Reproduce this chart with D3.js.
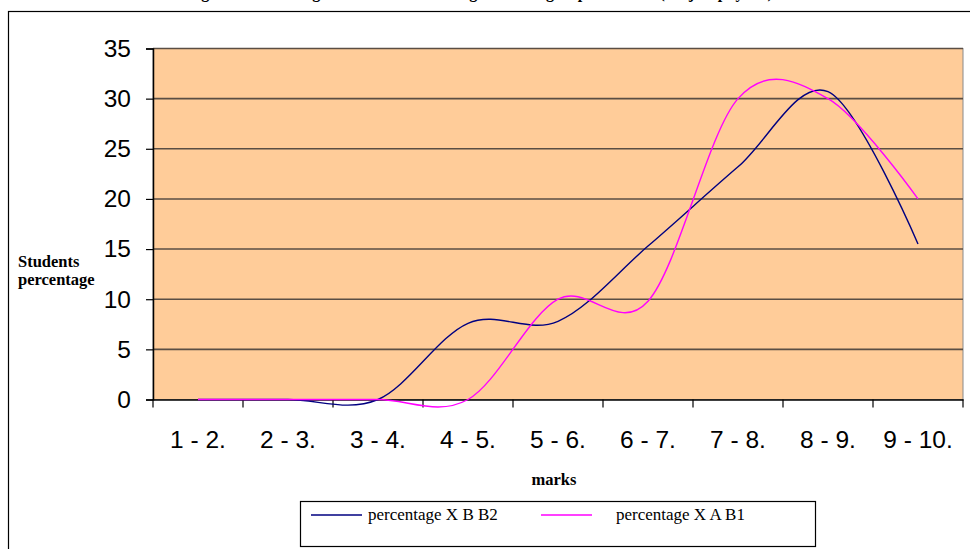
<!DOCTYPE html>
<html>
<head>
<meta charset="utf-8">
<script src="https://cdn.jsdelivr.net/npm/d3@7"></script>
<style>
  html, body { margin: 0; padding: 0; background: #fff; }
  svg { display: block; }
</style>
</head>
<body>
<svg id="chart" width="970" height="549"></svg>
<script>
const categories = ["1 - 2.", "2 - 3.", "3 - 4.", "4 - 5.", "5 - 6.", "6 - 7.", "7 - 8.", "8 - 9.", "9 - 10."];
const seriesXBB2 = [0, 0, 0, 7.6, 7.8, 15.3, 23.2, 30.7, 15.5];
const seriesXAB1 = [0, 0, 0, 0, 10.0, 9.8, 30.0, 30.0, 20.0];
const seriesNames = ["percentage X B B2", "percentage X A B1"];
const seriesColors = ["#000080", "#FF00FF"];
const yTicks = [0, 5, 10, 15, 20, 25, 30, 35];

(function () {
const svg = d3.select("#chart");
const pLeft = 153, pRight = 963, pTop = 48.5, pBottom = 399.5;

const x = d3.scaleBand().domain(categories).range([pLeft, pRight]).padding(0);
const y = d3.scaleLinear().domain([0, 35]).range([pBottom, pTop]);

// title (cut off at top, as in the source)
svg.append("text")
  .attr("x", 480).attr("y", -2.5)
  .attr("text-anchor", "middle")
  .attr("font-family", "Liberation Serif, Times New Roman, serif")
  .attr("font-weight", "bold").attr("font-size", 16)
  .text("Figure 2. Percentage of students according to marks group in class X (subject physics)");

// outer frame
svg.append("rect")
  .attr("x", 8.5).attr("y", 11.5).attr("width", 975).attr("height", 600)
  .attr("fill", "none").attr("stroke", "#000").attr("stroke-width", 1.2);

// plot background
svg.append("rect")
  .attr("x", pLeft).attr("y", pTop).attr("width", pRight - pLeft).attr("height", pBottom - pTop)
  .attr("fill", "#FFCC99").attr("stroke", "#8a8a8a").attr("stroke-width", 1);

// gridlines
svg.append("g").selectAll("line")
  .data(yTicks.filter(d => d > 0))
  .join("line")
  .attr("x1", pLeft).attr("x2", pRight)
  .attr("y1", d => y(d)).attr("y2", d => y(d))
  .attr("stroke", "#5a4e44").attr("stroke-width", 1.6);

// y axis
const yAxis = d3.axisLeft(y).tickValues(yTicks).tickSize(7).tickPadding(15).tickFormat(d3.format("d"));
const gy = svg.append("g").attr("transform", `translate(${pLeft},0)`).call(yAxis);
gy.select(".domain").attr("stroke", "#000").attr("stroke-width", 1.5);
gy.selectAll(".tick line").attr("stroke", "#000").attr("stroke-width", 1.2);
gy.selectAll(".tick text")
  .attr("font-family", "Liberation Sans, Arial, sans-serif")
  .attr("font-size", 24.5).attr("fill", "#000");

// x axis
const xAxis = d3.axisBottom(x).tickSize(0).tickPadding(48);
const gx = svg.append("g").attr("transform", `translate(0,${pBottom})`).call(xAxis);
gx.select(".domain").attr("stroke", "#000").attr("stroke-width", 1.5);
gx.selectAll(".tick text")
  .attr("font-family", "Liberation Sans, Arial, sans-serif")
  .attr("font-size", 24.5).attr("fill", "#000")
  .attr("dy", 0);
const bounds = categories.map(c => x(c)).concat([x(categories[categories.length - 1]) + x.bandwidth()]);
gx.append("g").selectAll("line").data(bounds).join("line")
  .attr("x1", d => d).attr("x2", d => d)
  .attr("y1", 0).attr("y2", 8)
  .attr("stroke", "#000").attr("stroke-width", 1.2);

// lines (smoothed like the spreadsheet's smoothed lines)
const line = d3.line()
  .x((d, i) => x(categories[i]) + x.bandwidth() / 2)
  .y(d => y(d))
  .curve(d3.curveCardinal.tension(0));

[seriesXBB2, seriesXAB1].forEach((s, k) => {
  svg.append("path")
    .datum(s)
    .attr("d", line)
    .attr("fill", "none")
    .attr("stroke", seriesColors[k])
    .attr("stroke-width", 1.4);
});

// axis titles
const serif = "Liberation Serif, Times New Roman, serif";
svg.append("text").attr("x", 18).attr("y", 267)
  .attr("font-family", serif).attr("font-weight", "bold").attr("font-size", 16.5)
  .text("Students");
svg.append("text").attr("x", 18).attr("y", 285)
  .attr("font-family", serif).attr("font-weight", "bold").attr("font-size", 16.5)
  .text("percentage");
svg.append("text").attr("x", 554).attr("y", 485).attr("text-anchor", "middle")
  .attr("font-family", serif).attr("font-weight", "bold").attr("font-size", 16.5)
  .text("marks");

// legend
const lg = svg.append("g");
lg.append("rect").attr("x", 300.5).attr("y", 501.5).attr("width", 515).attr("height", 45)
  .attr("fill", "#fff").attr("stroke", "#000").attr("stroke-width", 1.2);
const legendX = [311, 541];
const textX = [368, 616];
seriesNames.forEach((n, k) => {
  lg.append("line").attr("x1", legendX[k]).attr("x2", legendX[k] + 51)
    .attr("y1", 515).attr("y2", 515)
    .attr("stroke", seriesColors[k]).attr("stroke-width", 1.4);
  lg.append("text").attr("x", textX[k]).attr("y", 520)
    .attr("font-family", serif).attr("font-size", 17)
    .text(n);
});
})();
</script>
</body>
</html>
